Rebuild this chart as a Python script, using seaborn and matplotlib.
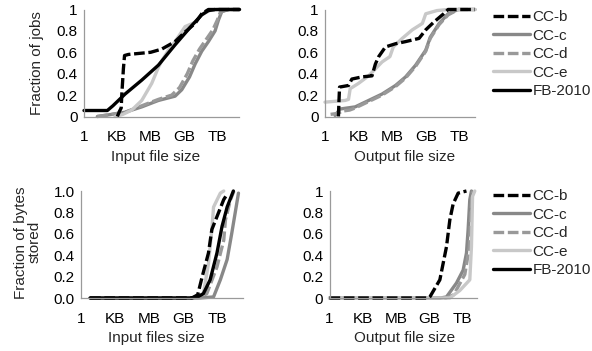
import numpy as np
import pandas as pd
import matplotlib
matplotlib.use("Agg")
import matplotlib.pyplot as plt
import seaborn as sns

sns.set_theme(style="white")
plt.rcParams["font.family"] = ["Liberation Sans", "DejaVu Sans"]
plt.rcParams["font.size"] = 11

# ---------------------------------------------------------------------------
# DATA  (x = log10 of size in bytes, y = cumulative fraction)
# ---------------------------------------------------------------------------
size_ticks = [0, 3, 6, 9, 12]
size_labels = ["1", "KB", "MB", "GB", "TB"]
series_names = ["CC-b", "CC-c", "CC-d", "CC-e", "FB-2010"]

# input file size vs fraction of jobs
in_jobs_ccb_x = [3.0, 3.2, 3.35, 3.4, 3.55, 3.65, 4.0, 5.0, 6.0, 7.0, 8.2, 9.1, 10.0, 10.6, 11.2, 14.0]
in_jobs_ccb_y = [0.0, 0.05, 0.08, 0.2, 0.45, 0.57, 0.58, 0.59, 0.60, 0.63, 0.70, 0.79, 0.87, 0.96, 1.0, 1.0]
in_jobs_ccc_x = [1.2, 2.5, 3.7, 5.2, 6.7, 8.2, 8.8, 9.5, 10.0, 10.6, 11.2, 11.8, 12.1, 12.4, 13.0, 14.0]
in_jobs_ccc_y = [0.0, 0.02, 0.04, 0.09, 0.15, 0.19, 0.25, 0.37, 0.49, 0.61, 0.70, 0.80, 0.90, 0.98, 1.0, 1.0]
in_jobs_ccd_x = [1.2, 2.5, 3.7, 5.2, 6.7, 7.9, 8.6, 9.3, 9.8, 10.4, 11.0, 11.6, 12.0, 12.3, 13.0, 14.0]
in_jobs_ccd_y = [0.0, 0.02, 0.04, 0.10, 0.16, 0.20, 0.27, 0.40, 0.52, 0.63, 0.72, 0.81, 0.90, 0.98, 1.0, 1.0]
in_jobs_cce_x = [2.8, 3.5, 4.3, 5.2, 6.1, 6.7, 7.0, 7.6, 8.2, 9.1, 10.0, 10.6, 11.3, 12.0, 14.0]
in_jobs_cce_y = [0.0, 0.02, 0.06, 0.15, 0.31, 0.46, 0.52, 0.62, 0.70, 0.84, 0.88, 0.95, 0.99, 1.0, 1.0]
in_jobs_fb_x = [0.0, 2.1, 2.6, 3.1, 3.7, 5.2, 6.7, 8.2, 9.7, 10.6, 11.2, 11.8, 14.0]
in_jobs_fb_y = [0.056, 0.056, 0.10, 0.15, 0.21, 0.34, 0.48, 0.67, 0.85, 0.95, 0.99, 1.0, 1.0]

# output file size vs fraction of jobs
out_jobs_ccb_x = [1.2, 1.25, 1.3, 2.1, 2.4, 3.3, 4.2, 4.5, 4.8, 5.4, 6.3, 7.2, 8.4, 9.0, 9.7, 10.6, 11.0, 13.4]
out_jobs_ccb_y = [0.0, 0.15, 0.275, 0.29, 0.35, 0.37, 0.38, 0.49, 0.56, 0.65, 0.68, 0.70, 0.73, 0.81, 0.88, 0.96, 1.0, 1.0]
out_jobs_ccc_x = [0.9, 1.35, 2.7, 3.9, 5.1, 6.3, 7.2, 8.1, 9.0, 9.4, 10.2, 11.0, 11.9, 13.4]
out_jobs_ccc_y = [0.01, 0.07, 0.09, 0.15, 0.21, 0.29, 0.37, 0.48, 0.62, 0.74, 0.87, 0.96, 1.0, 1.0]
out_jobs_ccd_x = [0.5, 1.2, 1.5, 2.2, 2.7, 3.9, 5.1, 6.3, 7.2, 8.1, 9.0, 9.4, 10.2, 11.0, 11.9, 13.4]
out_jobs_ccd_y = [0.02, 0.03, 0.05, 0.06, 0.08, 0.14, 0.20, 0.28, 0.36, 0.47, 0.61, 0.73, 0.86, 0.95, 1.0, 1.0]
out_jobs_cce_x = [0.0, 1.8, 2.1, 2.25, 3.0, 3.9, 5.1, 5.8, 6.1, 6.9, 7.8, 8.7, 9.0, 10.0, 11.0, 13.4]
out_jobs_cce_y = [0.134, 0.15, 0.16, 0.26, 0.31, 0.38, 0.51, 0.56, 0.65, 0.73, 0.81, 0.87, 0.96, 0.99, 1.0, 1.0]

# input file size vs fraction of bytes stored
in_bytes_ccb_x = [0.8, 9.8, 10.3, 10.7, 11.25, 11.55, 12.0, 12.6, 12.9]
in_bytes_ccb_y = [0.0, 0.0, 0.03, 0.20, 0.42, 0.64, 0.76, 0.92, 0.97]
in_bytes_ccc_x = [0.8, 10.5, 11.7, 12.3, 12.9, 13.3, 13.6, 13.9]
in_bytes_ccc_y = [0.0, 0.0, 0.01, 0.17, 0.36, 0.60, 0.79, 0.98]
in_bytes_ccd_x = [0.8, 10.3, 11.1, 12.0, 12.6, 12.75, 13.2, 13.5]
in_bytes_ccd_y = [0.0, 0.0, 0.04, 0.29, 0.54, 0.73, 0.92, 1.0]
in_bytes_cce_x = [0.8, 9.8, 10.8, 11.25, 11.55, 11.7, 12.3, 12.6]
in_bytes_cce_y = [0.0, 0.0, 0.04, 0.32, 0.64, 0.85, 0.98, 1.0]
in_bytes_fb_x = [0.8, 9.6, 10.3, 10.8, 11.4, 12.0, 12.45, 12.9, 13.45]
in_bytes_fb_y = [0.0, 0.0, 0.01, 0.04, 0.17, 0.42, 0.67, 0.85, 1.0]

# output file size vs fraction of bytes stored
out_bytes_ccb_x = [0.0, 8.9, 9.05, 9.95, 10.55, 10.85, 11.15, 11.6, 12.35]
out_bytes_ccb_y = [0.0, 0.0, 0.01, 0.17, 0.48, 0.73, 0.88, 0.98, 1.0]
out_bytes_ccc_x = [0.0, 10.0, 10.55, 11.45, 12.05, 12.35, 12.5, 12.65, 12.8]
out_bytes_ccc_y = [0.0, 0.0, 0.01, 0.14, 0.26, 0.42, 0.64, 0.92, 1.0]
out_bytes_ccd_x = [0.0, 10.5, 11.2, 12.2, 12.6, 12.75, 12.85, 12.95]
out_bytes_ccd_y = [0.0, 0.0, 0.03, 0.22, 0.47, 0.78, 0.97, 1.0]
out_bytes_cce_x = [0.0, 10.85, 11.75, 12.65, 12.8, 12.9, 13.1]
out_bytes_cce_y = [0.0, 0.0, 0.07, 0.17, 0.48, 0.95, 1.0]

# ---------------------------------------------------------------------------
# STYLE
# ---------------------------------------------------------------------------
styles = {
    "CC-b": dict(color="#000000", linestyle=(0, (3.2, 1.1))),
    "CC-c": dict(color="#888888", linestyle="-"),
    "CC-d": dict(color="#999999", linestyle=(0, (3.2, 1.1))),
    "CC-e": dict(color="#c8c8c8", linestyle="-"),
    "FB-2010": dict(color="#000000", linestyle="-"),
}
draw_order = ["CC-c", "CC-d", "CC-e", "CC-b", "FB-2010"]
spine_color = "#9a9a9a"
FS = 11


def draw_panel(ax, curves, xmax, xlabel, ylabel, yfmt):
    handles = {}
    for name in draw_order:
        if name not in curves:
            continue
        xs, ys = curves[name]
        sns.lineplot(x=xs, y=ys, ax=ax, sort=False, estimator=None,
                     linewidth=2.4, clip_on=False, **styles[name])
        handles[name] = ax.lines[-1]
    ax.set_xlim(0, xmax)
    ax.set_ylim(0, 1)
    ax.set_xticks(size_ticks)
    ax.set_xticklabels(size_labels)
    yt = np.arange(0, 1.01, 0.2)
    ax.set_yticks(yt)
    ax.set_yticklabels([yfmt(v) for v in yt])
    for side in ["top", "right"]:
        ax.spines[side].set_visible(False)
    for side in ["left", "bottom"]:
        ax.spines[side].set_color(spine_color)
        ax.spines[side].set_linewidth(0.9)
    ax.tick_params(axis="both", direction="out", length=3, width=0.9,
                   color=spine_color, labelsize=FS, labelcolor="#000000")
    ax.tick_params(axis="x", pad=7)
    ax.tick_params(axis="y", pad=1.5)
    ax.set_xlabel(xlabel, fontsize=FS)
    ax.set_ylabel(ylabel, fontsize=FS)
    ax.grid(False)
    return handles


def fmt_plain(v):
    return "0" if v == 0 else ("1" if v >= 0.999 else f"{v:.1f}")


def fmt_one(v):
    return f"{v:.1f}"


fig = plt.figure(figsize=(5.92, 3.51), dpi=100)
W, H = 592, 351


def px_axes(left, right, top, bottom):
    return fig.add_axes([left / W, 1 - bottom / H, (right - left) / W, (bottom - top) / H])


ax_tl = px_axes(84, 239.5, 9.5, 116.5)
ax_tr = px_axes(325, 475, 9.5, 116.5)
ax_bl = px_axes(81, 243, 191, 298)
ax_br = px_axes(329.5, 477, 191, 298)

h = draw_panel(ax_tl, {
    "CC-b": (in_jobs_ccb_x, in_jobs_ccb_y),
    "CC-c": (in_jobs_ccc_x, in_jobs_ccc_y),
    "CC-d": (in_jobs_ccd_x, in_jobs_ccd_y),
    "CC-e": (in_jobs_cce_x, in_jobs_cce_y),
    "FB-2010": (in_jobs_fb_x, in_jobs_fb_y),
}, 14.0, "Input file size", "Fraction of jobs", fmt_plain)

draw_panel(ax_tr, {
    "CC-b": (out_jobs_ccb_x, out_jobs_ccb_y),
    "CC-c": (out_jobs_ccc_x, out_jobs_ccc_y),
    "CC-d": (out_jobs_ccd_x, out_jobs_ccd_y),
    "CC-e": (out_jobs_cce_x, out_jobs_cce_y),
}, 13.4, "Output file size", "", fmt_plain)

draw_panel(ax_bl, {
    "CC-b": (in_bytes_ccb_x, in_bytes_ccb_y),
    "CC-c": (in_bytes_ccc_x, in_bytes_ccc_y),
    "CC-d": (in_bytes_ccd_x, in_bytes_ccd_y),
    "CC-e": (in_bytes_cce_x, in_bytes_cce_y),
    "FB-2010": (in_bytes_fb_x, in_bytes_fb_y),
}, 14.3, "Input files size", "Fraction of bytes\nstored", fmt_one)

draw_panel(ax_br, {
    "CC-b": (out_bytes_ccb_x, out_bytes_ccb_y),
    "CC-c": (out_bytes_ccc_x, out_bytes_ccc_y),
    "CC-d": (out_bytes_ccd_x, out_bytes_ccd_y),
    "CC-e": (out_bytes_cce_x, out_bytes_cce_y),
}, 13.3, "Output file size", "", fmt_plain)

# label positions (axes coords)
ax_tl.yaxis.set_label_coords(-0.255, 0.5)
ax_bl.yaxis.set_label_coords(-0.245, 0.52)
for ax, xc in [(ax_tl, 0.46), (ax_tr, 0.53), (ax_bl, 0.467), (ax_br, 0.51)]:
    ax.xaxis.set_label_coords(xc, -0.31)
ax_bl.yaxis.label.set_linespacing(0.95)

leg_handles = [h[n] for n in series_names]
for top_px in [10, 189]:
    fig.legend(leg_handles, series_names, loc="upper left",
               bbox_to_anchor=(493 / W, 1 - top_px / H), frameon=False,
               borderaxespad=0, borderpad=0, handlelength=2.4,
               handletextpad=0.2, labelspacing=0.3, fontsize=FS)

fig.savefig("out.png", dpi=100)
